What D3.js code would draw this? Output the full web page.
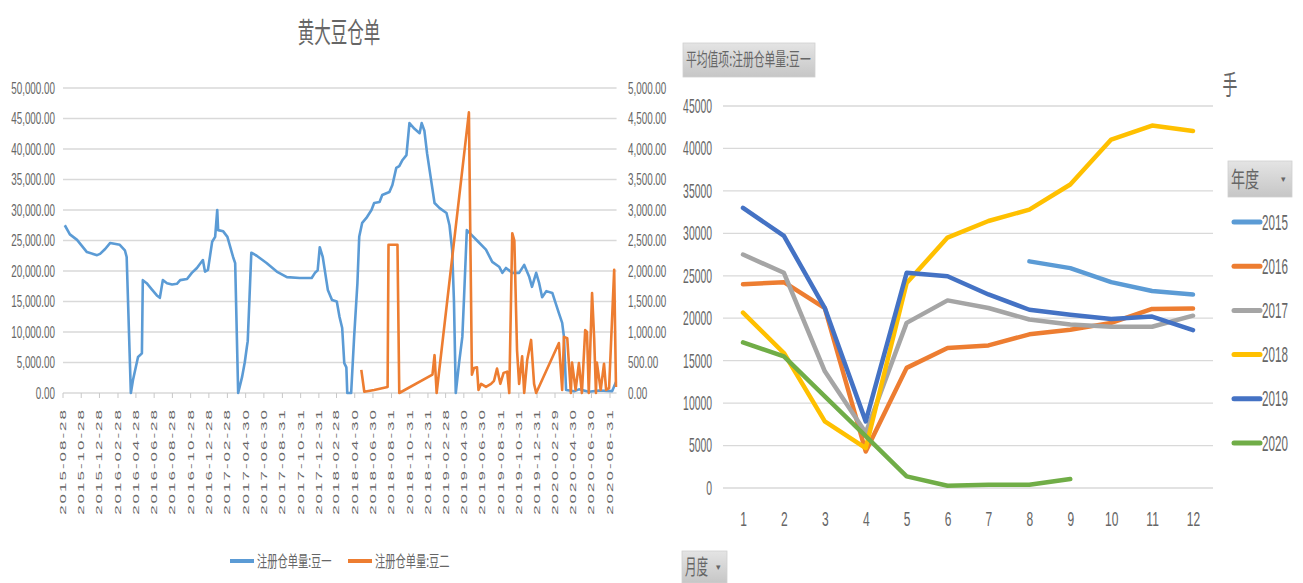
<!DOCTYPE html>
<html>
<head>
<meta charset="utf-8">
<script src="https://cdn.jsdelivr.net/npm/d3@7"></script>
<style>
  html, body { margin: 0; padding: 0; background: #ffffff; }
  svg { display: block; }
  text { font-family: "Liberation Sans", "Noto Sans CJK SC", sans-serif; fill: #666666; }
  .cjk { font-family: "Noto Sans CJK SC", "Liberation Sans", sans-serif; }
</style>
</head>
<body>
<svg id="chart" width="1303" height="583"></svg>
<script>
// ---------- left chart: daily warehouse receipts ----------
const leftTitle = "黄大豆仓单";
const seriesNames = ["注册仓单量:豆一", "注册仓单量:豆二"];
const dateLabels = [
  "2015-08-28","2015-10-28","2015-12-28","2016-02-28","2016-04-28","2016-06-28",
  "2016-08-28","2016-10-28","2016-12-28","2017-02-28","2017-04-30","2017-06-30",
  "2017-08-31","2017-10-31","2017-12-31","2018-02-28","2018-04-30","2018-06-30",
  "2018-08-31","2018-10-31","2018-12-31","2019-02-28","2019-04-30","2019-06-30",
  "2019-08-31","2019-10-31","2019-12-31","2020-02-29","2020-04-30","2020-06-30",
  "2020-08-31"
];
const leftTicks = [0,5000,10000,15000,20000,25000,30000,35000,40000,45000,50000];
const rightTicks = [0,500,1000,1500,2000,2500,3000,3500,4000,4500,5000];

// 注册仓单量:豆一 (left axis)
const douyi = [
  ["2015-09-03",27500],["2015-09-20",26000],["2015-10-14",25100],["2015-11-16",23100],
  ["2015-12-20",22600],["2015-12-30",22800],["2016-01-16",23600],["2016-02-02",24600],
  ["2016-03-05",24300],["2016-03-22",23400],["2016-03-28",22300],["2016-04-11",0],
  ["2016-04-18",2100],["2016-05-05",5900],["2016-05-18",6500],["2016-05-21",18500],
  ["2016-06-03",18000],["2016-06-20",17000],["2016-07-07",16000],["2016-07-17",15600],
  ["2016-07-27",18500],["2016-08-10",18000],["2016-08-27",17800],["2016-09-12",17900],
  ["2016-09-23",18500],["2016-10-16",18700],["2016-11-01",19700],["2016-11-18",20500],
  ["2016-12-08",21800],["2016-12-15",19900],["2016-12-25",20200],["2017-01-08",24800],
  ["2017-01-18",25600],["2017-01-25",30000],["2017-01-28",26700],["2017-02-14",26500],
  ["2017-02-28",25600],["2017-03-19",22300],["2017-03-26",21300],["2017-04-05",0],
  ["2017-04-18",2600],["2017-04-27",5000],["2017-05-04",7500],["2017-05-07",8500],
  ["2017-05-13",15700],["2017-05-19",23000],["2017-06-06",22500],["2017-07-09",21300],
  ["2017-08-12",19900],["2017-09-15",19000],["2017-10-28",18850],["2017-12-07",18850],
  ["2017-12-18",19700],["2017-12-27",20100],["2018-01-03",23900],["2018-01-13",22300],
  ["2018-01-30",16900],["2018-02-13",15250],["2018-03-01",15000],["2018-03-10",12500],
  ["2018-03-19",10650],["2018-03-26",4900],["2018-04-02",4200],["2018-04-05",0],
  ["2018-04-18",0],["2018-04-28",9200],["2018-05-09",18000],["2018-05-15",25600],
  ["2018-05-25",27900],["2018-06-08",28700],["2018-06-25",30000],["2018-07-04",31150],
  ["2018-07-22",31300],["2018-07-31",32450],["2018-08-24",32950],["2018-09-03",34100],
  ["2018-09-16",36900],["2018-09-26",37200],["2018-10-07",38200],["2018-10-20",39000],
  ["2018-10-30",44250],["2018-11-16",43300],["2018-12-03",42600],["2018-12-10",44250],
  ["2018-12-19",43000],["2018-12-28",39300],["2019-01-12",34400],["2019-01-22",31150],
  ["2019-02-08",30300],["2019-03-03",29500],["2019-03-13",27500],["2019-03-22",23400],
  ["2019-03-28",15000],["2019-04-03",0],["2019-04-14",4900],["2019-04-25",9200],
  ["2019-05-01",16000],["2019-05-10",26700],["2019-05-24",26000],["2019-06-18",24750],
  ["2019-07-13",23500],["2019-08-03",21500],["2019-08-26",20700],["2019-09-06",19700],
  ["2019-09-18",20500],["2019-10-09",19700],["2019-11-01",19700],["2019-11-18",21000],
  ["2019-12-05",19000],["2019-12-14",17400],["2019-12-28",19700],["2020-01-07",18000],
  ["2020-01-17",15700],["2020-01-31",16700],["2020-02-20",16400],["2020-03-13",13100],
  ["2020-03-24",11500],["2020-03-30",9200],["2020-04-06",500],["2020-05-03",300],
  ["2020-05-19",600],["2020-06-21",200],["2020-07-25",400],["2020-09-07",300],
  ["2020-09-20",1800]
];

// 注册仓单量:豆二 (right axis)
const douer = [
  ["2018-05-22",380],["2018-06-01",20],["2018-07-04",50],["2018-08-18",100],
  ["2018-08-21",2430],["2018-09-20",2430],["2018-09-26",0],["2019-01-15",300],
  ["2019-01-22",620],["2019-01-29",0],["2019-05-17",4600],["2019-05-27",300],
  ["2019-06-03",410],["2019-06-13",420],["2019-06-18",50],["2019-06-27",150],
  ["2019-07-13",100],["2019-07-30",150],["2019-08-09",200],["2019-08-19",400],
  ["2019-08-30",150],["2019-09-10",330],["2019-09-22",350],["2019-09-29",0],
  ["2019-10-09",2620],["2019-10-16",2500],["2019-10-25",700],["2019-11-01",150],
  ["2019-11-11",600],["2019-11-18",0],["2019-11-28",540],["2019-12-11",870],
  ["2019-12-21",150],["2019-12-28",0],["2020-03-13",820],["2020-03-24",50],
  ["2020-03-30",920],["2020-04-10",900],["2020-04-22",0],["2020-04-26",500],
  ["2020-05-08",50],["2020-05-19",490],["2020-05-29",0],["2020-06-09",1030],
  ["2020-06-15",1000],["2020-06-21",0],["2020-07-02",1640],["2020-07-09",900],
  ["2020-07-15",0],["2020-07-18",500],["2020-07-31",50],["2020-08-11",480],
  ["2020-08-18",50],["2020-08-28",80],["2020-09-14",2020],["2020-09-20",100]
];

// ---------- right chart: monthly averages by year ----------
const pivotField = "平均值项:注册仓单量:豆一";
const unitLabel = "手";
const yearField = "年度";
const monthField = "月度";
const months = [1,2,3,4,5,6,7,8,9,10,11,12];
const monthTicks = [0,5000,10000,15000,20000,25000,30000,35000,40000,45000];
const years = ["2015","2016","2017","2018","2019","2020"];
const avg2015 = [null,null,null,null,null,null,null,26700,25900,24250,23200,22800];
const avg2016 = [24000,24250,21200,4300,14150,16500,16800,18100,18650,19450,21100,21150];
const avg2017 = [27500,25350,13750,6500,19450,22100,21200,19850,19250,19000,19000,20300];
const avg2018 = [20650,15900,7850,4700,24150,29500,31450,32800,35750,41050,42700,42050];
const avg2019 = [33000,29700,21200,7850,25350,24950,22800,21000,20400,19900,20200,18600];
const avg2020 = [17150,15500,10800,6100,1370,270,390,390,1060,null,null,null];
const yearColors = ["#5B9BD5","#ED7D31","#A5A5A5","#FFC000","#4472C4","#70AD47"];

const svg = d3.select("#chart");
const parse = d3.timeParse("%Y-%m-%d");

// narrow the glyphs horizontally around each text's x anchor
function squeeze(sel, k) {
  sel.each(function () {
    const x = +(this.getAttribute("x") || 0);
    d3.select(this).attr("transform", `matrix(${k},0,0,1,${x * (1 - k)},0)`);
  });
}

// ================= left chart =================
const xL = d3.scaleTime()
  .domain([parse("2015-08-28"), parse("2020-08-31")])
  .range([63, 610]);
const yL = d3.scaleLinear().domain([0, 50000]).range([393, 88]);
const yR = d3.scaleLinear().domain([0, 5000]).range([393, 88]);
const gridRight = xL(parse("2020-09-22"));

const left = svg.append("g");

left.append("text")
  .attr("class", "cjk")
  .attr("x", 339).attr("y", 43)
  .attr("text-anchor", "middle")
  .style("font-size", "28px")
  .attr("fill", "#707070")
  .text(leftTitle)
  .call(squeeze, 0.59);

left.append("g").selectAll("line")
  .data(leftTicks).join("line")
  .attr("x1", 63).attr("x2", gridRight)
  .attr("y1", d => yL(d)).attr("y2", d => yL(d))
  .attr("stroke", "#d9d9d9").attr("stroke-width", 1.3);

// tick marks below the baseline
left.append("g").selectAll("line")
  .data(dateLabels).join("line")
  .attr("x1", d => xL(parse(d))).attr("x2", d => xL(parse(d)))
  .attr("y1", 393).attr("y2", 398)
  .attr("stroke", "#c8c8c8").attr("stroke-width", 1);

const axL = left.append("g").attr("transform", "translate(58,0)")
  .call(d3.axisLeft(yL).tickValues(leftTicks).tickSize(0).tickPadding(3).tickFormat(d3.format(",.2f")));
axL.select(".domain").remove();
axL.selectAll("text").style("font-size", "17px").style("font-family", "Liberation Sans").attr("fill", "#6a6a6a").call(squeeze, 0.58);

const axR = left.append("g").attr("transform", "translate(625,0)")
  .call(d3.axisRight(yR).tickValues(rightTicks).tickSize(0).tickPadding(3).tickFormat(d3.format(",.2f")));
axR.select(".domain").remove();
axR.selectAll("text").style("font-size", "17px").style("font-family", "Liberation Sans").attr("fill", "#6a6a6a").call(squeeze, 0.58);

left.append("g").selectAll("text")
  .data(dateLabels).join("text")
  .attr("transform", d => `translate(${xL(parse(d))},408) rotate(-90) scale(1,0.5)`)
  .attr("text-anchor", "end")
  .attr("dy", "0.35em")
  .style("font-size", "17px")
  .style("letter-spacing", "2px")
  .attr("fill", "#7a7a7a")
  .text(d => d);

const lineL = d3.line().x(d => xL(parse(d[0]))).y(d => yL(d[1]));
const lineR = d3.line().x(d => xL(parse(d[0]))).y(d => yR(d[1]));

left.append("path").datum(douyi)
  .attr("d", lineL).attr("fill", "none")
  .attr("stroke", "#5B9BD5").attr("stroke-width", 2.6).attr("stroke-linejoin", "round");
left.append("path").datum(douer)
  .attr("d", lineR).attr("fill", "none")
  .attr("stroke", "#ED7D31").attr("stroke-width", 2.6).attr("stroke-linejoin", "round");

// legend
const legL = left.append("g");
[{x: 230, c: "#5B9BD5"}, {x: 348, c: "#ED7D31"}].forEach((it, i) => {
  legL.append("line")
    .attr("x1", it.x).attr("x2", it.x + 24).attr("y1", 561).attr("y2", 561)
    .attr("stroke", it.c).attr("stroke-width", 4);
  legL.append("text")
    .attr("class", "cjk")
    .attr("x", it.x + 27).attr("y", 561).attr("dy", "0.35em")
    .style("font-size", "16px").attr("fill", "#707070")
    .text(seriesNames[i])
    .call(squeeze, 0.64);
});

// ================= right chart =================
const xM = d3.scalePoint().domain(months).range([743, 1193]);
const yM = d3.scaleLinear().domain([0, 45000]).range([488, 106]);
const right = svg.append("g");

const defs = svg.append("defs");
const grad = defs.append("linearGradient").attr("id", "btn").attr("x1", 0).attr("y1", 0).attr("x2", 0).attr("y2", 1);
grad.append("stop").attr("offset", "0%").attr("stop-color", "#e4e4e4");
grad.append("stop").attr("offset", "100%").attr("stop-color", "#c6c6c6");

function button(x, y, w, h, label, fs, k, arrow) {
  const g = right.append("g");
  g.append("rect").attr("x", x).attr("y", y).attr("width", w).attr("height", h)
    .attr("fill", "url(#btn)").attr("stroke", "#d0d0d0").attr("stroke-width", 0.8);
  g.append("text").attr("class", "cjk")
    .attr("x", x + 3).attr("y", y + h / 2).attr("dy", "0.35em")
    .style("font-size", fs + "px").attr("fill", "#333333")
    .text(label).call(squeeze, k);
  if (arrow) {
    g.append("text").attr("x", x + w - 9).attr("y", y + h / 2).attr("dy", "0.35em")
      .attr("text-anchor", "middle").style("font-size", "9px").attr("fill", "#333333").text("▾");
  }
}
button(683, 43, 132, 34, pivotField, 18, 0.6, false);
button(1228, 161, 64, 36, yearField, 22, 0.64, true);
button(682, 551, 45, 32, monthField, 21, 0.55, true);

right.append("text").attr("class", "cjk")
  .attr("x", 1230).attr("y", 95).attr("text-anchor", "middle")
  .style("font-size", "27px").attr("fill", "#333333")
  .text(unitLabel).call(squeeze, 0.55);

right.append("g").selectAll("line")
  .data(monthTicks).join("line")
  .attr("x1", 723).attr("x2", 1213)
  .attr("y1", d => yM(d)).attr("y2", d => yM(d))
  .attr("stroke", "#d9d9d9").attr("stroke-width", 1.3);

const axM = right.append("g").attr("transform", "translate(715,0)")
  .call(d3.axisLeft(yM).tickValues(monthTicks).tickSize(0).tickPadding(3).tickFormat(d3.format("d")));
axM.select(".domain").remove();
axM.selectAll("text").style("font-size", "20px").style("font-family", "Liberation Sans").attr("fill", "#6a6a6a").call(squeeze, 0.52);

const axX = right.append("g").attr("transform", "translate(0,488)")
  .call(d3.axisBottom(xM).tickSize(0).tickPadding(24));
axX.select(".domain").remove();
axX.selectAll("text").attr("dy", "0").attr("y", 38).style("font-size", "20px").style("font-family", "Liberation Sans").attr("fill", "#6a6a6a").call(squeeze, 0.6);

const avgSeries = [avg2015, avg2016, avg2017, avg2018, avg2019, avg2020];
const lineM = d3.line()
  .defined(d => d != null)
  .x((d, i) => xM(months[i]))
  .y(d => yM(d));

avgSeries.forEach((s, i) => {
  right.append("path").datum(s)
    .attr("d", lineM).attr("fill", "none")
    .attr("stroke", yearColors[i]).attr("stroke-width", 4.5)
    .attr("stroke-linejoin", "round").attr("stroke-linecap", "round");
});

// year legend
const legR = right.append("g");
years.forEach((yr, i) => {
  const cy = 222 + i * 44.2;
  legR.append("line")
    .attr("x1", 1234).attr("x2", 1260).attr("y1", cy).attr("y2", cy)
    .attr("stroke", yearColors[i]).attr("stroke-width", 5).attr("stroke-linecap", "round");
  legR.append("text")
    .attr("x", 1262).attr("y", cy).attr("dy", "0.35em")
    .style("font-size", "22px").attr("fill", "#6a6a6a")
    .text(yr).call(squeeze, 0.53);
});
</script>
</body>
</html>
